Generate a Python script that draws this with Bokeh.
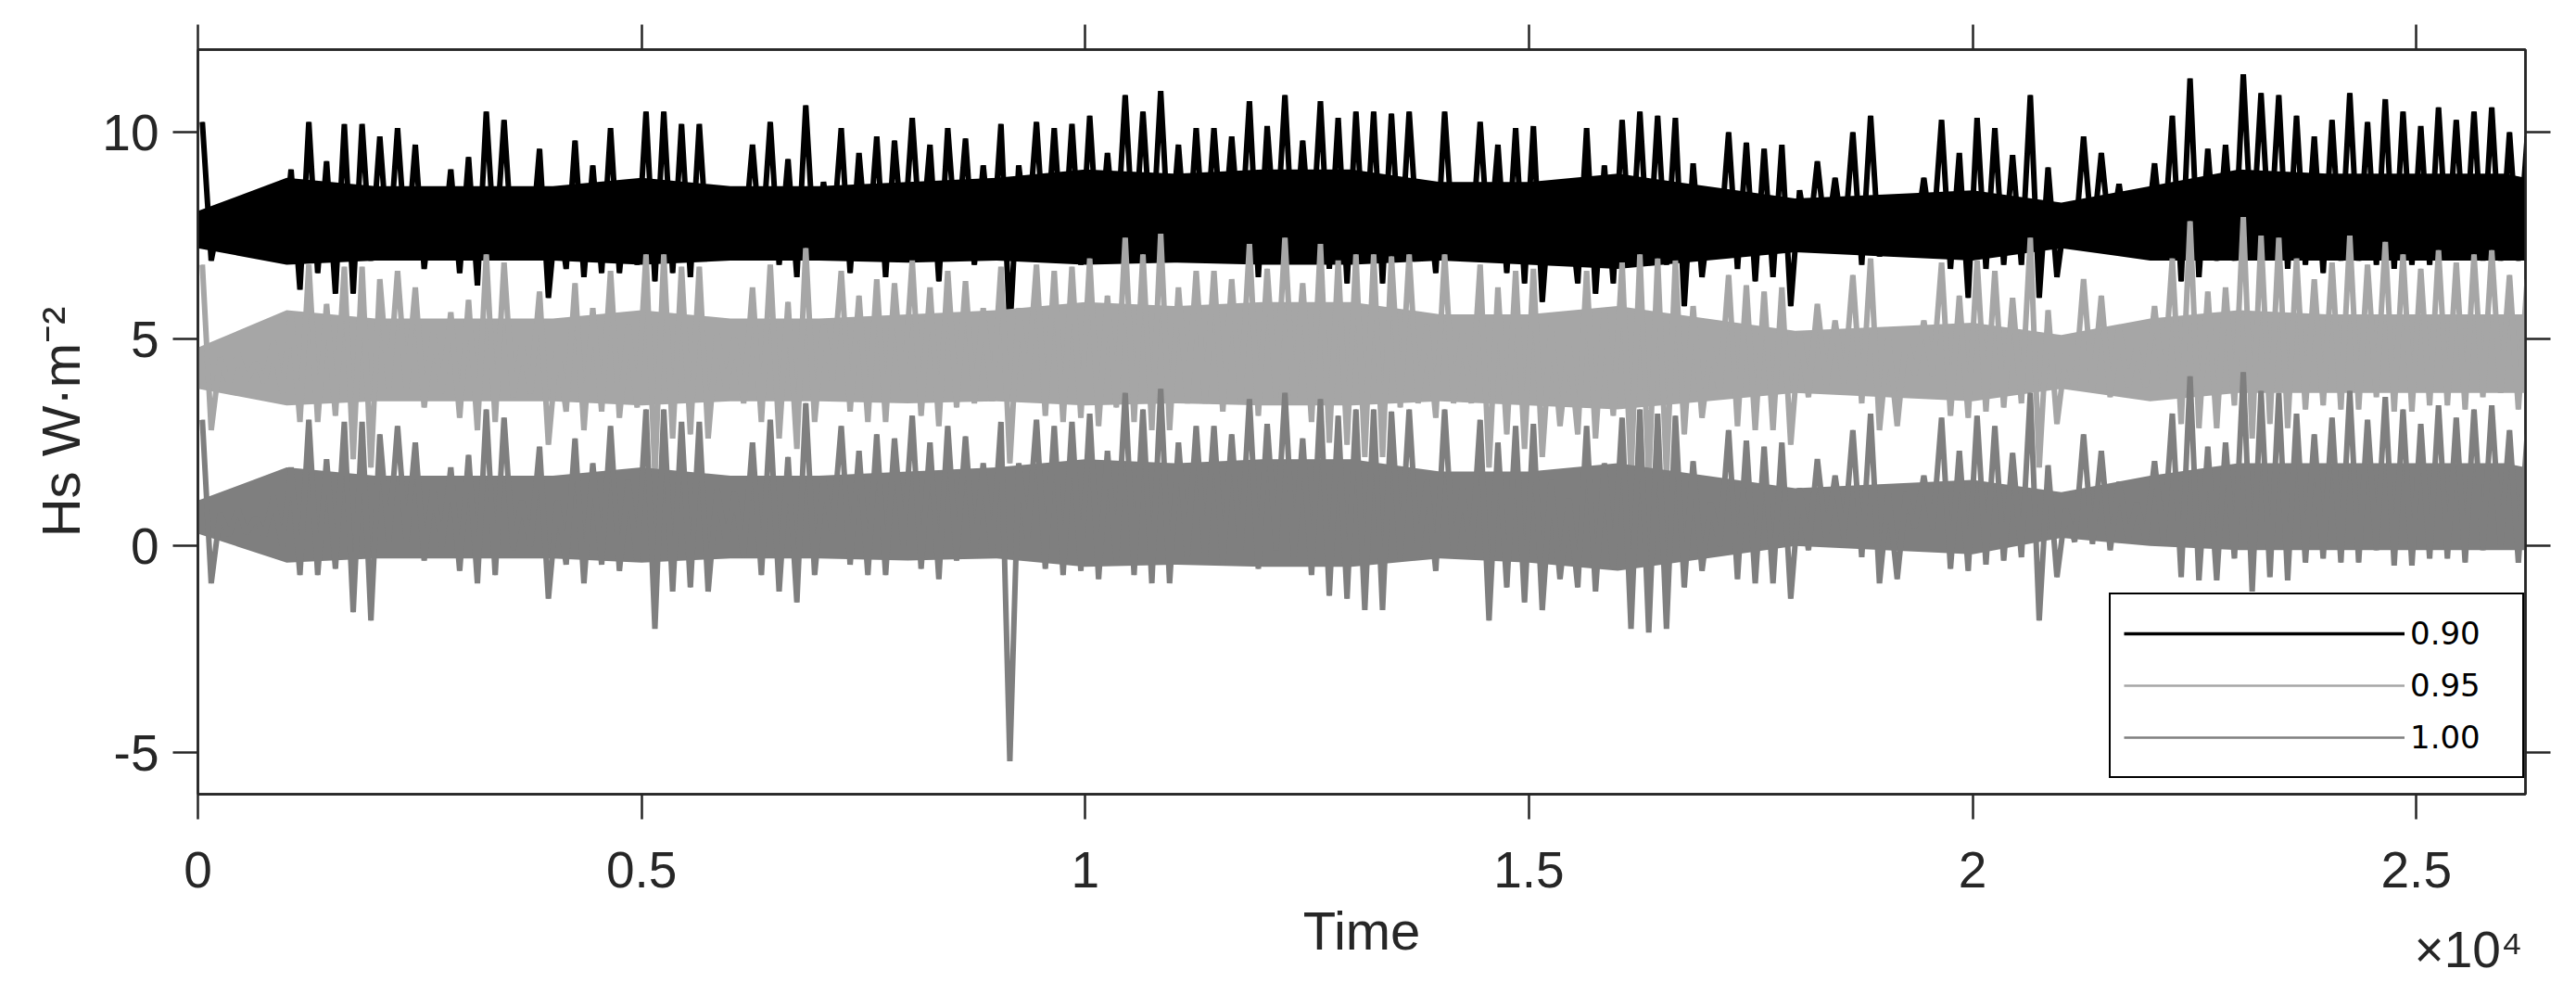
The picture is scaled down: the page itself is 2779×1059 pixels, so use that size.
from bokeh.plotting import figure
from bokeh.models import LinearAxis, FixedTicker, Legend, LegendItem, Title
from bokeh.embed import file_html
from bokeh.resources import INLINE

# ---------------- data ----------------
series_names = ["0.90", "0.95", "1.00"]
x_tick_values = [0, 5000, 10000, 15000, 20000, 25000]
x_tick_labels = ["0", "0.5", "1", "1.5", "2", "2.5"]
y_tick_values = [-5, 0, 5, 10]
y_tick_labels = ["-5", "0", "5", "10"]

# time bins of 200 units: each bin holds the highest and lowest excursion
bin_start = list(range(0, 26400, 200))

black_hi = [10.25, 8.0, 8.1, 7.9, 8.4, 9.1, 10.25, 9.3, 10.2, 10.2,
            9.9, 10.1, 9.7, 8.6, 9.1, 9.4, 10.5, 10.3, 8.3, 9.6,
            8.3, 9.8, 9.2, 10.1, 8.8, 10.5, 10.5, 10.2, 10.2, 8.6,
            8.5, 9.7, 10.25, 9.35, 10.65, 8.8, 10.1, 9.5, 9.9, 9.8,
            10.35, 9.7, 10.1, 9.85, 9.2, 10.2, 9.2, 10.25, 10.1, 10.2,
            10.4, 9.5, 10.9, 10.5, 11.0, 9.7, 10.1, 10.1, 9.9, 10.75,
            10.15, 10.9, 9.8, 10.75, 10.35, 10.5, 10.5, 10.45, 10.5, 8.8,
            10.5, 8.6, 10.25, 9.7, 10.1, 10.15, 8.8, 8.35, 10.1, 9.2,
            10.3, 10.5, 10.4, 10.35, 9.25, 8.25, 10.0, 9.75, 9.6, 9.7,
            8.6, 9.3, 8.9, 10.0, 10.4, 8.45, 8.5, 8.9, 10.3, 9.5,
            10.35, 10.1, 9.45, 10.9, 9.15, 8.1, 9.9, 9.5, 8.75, 8.25,
            9.25, 10.4, 11.3, 9.6, 9.7, 11.4, 10.95, 10.9, 10.4, 9.9,
            10.3, 10.95, 10.25, 10.8, 10.5, 10.15, 10.6, 10.3, 10.5, 10.6,
            10.0, 9.9]
black_lo = [6.9, 7.2, 7.2, 7.2, 6.9, 6.2, 6.6, 6.1, 6.1, 6.9,
            7.0, 7.0, 6.7, 7.0, 6.6, 6.3, 7.0, 7.0, 7.0, 6.0,
            6.7, 6.5, 6.6, 6.6, 6.8, 6.4, 6.6, 6.5, 6.9, 7.25,
            7.25, 7.1, 6.8, 6.5, 7.0, 7.3, 6.6, 7.0, 6.5, 7.2,
            7.2, 6.4, 7.2, 6.8, 7.0, 5.2, 7.4, 6.9, 6.9, 6.8,
            7.0, 7.2, 7.1, 7.1, 7.0, 6.9, 7.0, 7.2, 7.2, 6.5,
            7.2, 6.9, 7.1, 6.7, 6.35, 6.9, 6.35, 6.9, 7.25, 6.6,
            7.2, 7.1, 7.1, 6.6, 6.35, 5.9, 6.9, 6.35, 6.1, 6.35,
            6.8, 6.8, 6.8, 5.8, 6.5, 7.2, 6.7, 6.4, 6.5, 5.8,
            7.3, 7.3, 7.3, 6.8, 7.0, 7.35, 7.35, 7.35, 6.7, 6.0,
            6.7, 6.8, 6.8, 6.0, 6.5, 7.25, 7.3, 7.4, 7.3, 7.25,
            7.15, 6.4, 6.5, 6.9, 6.9, 7.25, 7.25, 6.7, 6.8, 6.6,
            6.9, 6.9, 6.8, 6.7, 6.8, 6.8, 7.05, 7.0, 6.9, 6.9,
            6.9, 6.9]

light_hi = [6.8, 4.55, 4.65, 4.45, 4.95, 5.65, 6.8, 5.85, 6.75, 6.75,
            6.45, 6.65, 6.25, 5.15, 5.65, 5.95, 7.05, 6.85, 4.85, 6.15,
            4.85, 6.35, 5.75, 6.65, 5.35, 7.05, 7.05, 6.75, 6.75, 5.15,
            5.05, 6.25, 6.8, 5.9, 7.2, 5.35, 6.65, 6.05, 6.45, 6.35,
            6.9, 6.25, 6.65, 6.4, 5.75, 6.75, 5.75, 6.8, 6.65, 6.75,
            6.95, 6.05, 7.45, 7.05, 7.55, 6.25, 6.65, 6.65, 6.45, 7.3,
            6.7, 7.45, 6.35, 7.3, 6.9, 7.05, 7.05, 7.0, 7.05, 5.35,
            7.05, 5.15, 6.8, 6.25, 6.65, 6.7, 5.35, 4.9, 6.65, 5.75,
            6.85, 7.05, 6.95, 6.9, 5.8, 4.8, 6.55, 6.3, 6.15, 6.25,
            5.15, 5.85, 5.45, 6.55, 6.95, 5.0, 5.05, 5.45, 6.85, 6.05,
            6.9, 6.65, 6.0, 7.45, 5.7, 4.65, 6.45, 6.05, 5.3, 4.8,
            5.8, 6.95, 7.85, 6.15, 6.25, 7.95, 7.5, 7.45, 6.95, 6.45,
            6.85, 7.5, 6.8, 7.35, 7.05, 6.7, 7.15, 6.85, 7.05, 7.15,
            6.55, 6.45]
light_lo = [2.8, 3.95, 4.0, 3.95, 3.7, 3.0, 3.0, 3.15, 2.1, 1.9,
            3.8, 3.8, 3.35, 3.7, 3.1, 2.8, 3.0, 3.6, 3.7, 2.45,
            3.25, 2.8, 3.25, 3.1, 3.35, 1.7, 2.6, 2.7, 2.6, 3.8,
            3.45, 3.0, 2.6, 2.35, 3.0, 4.0, 3.25, 3.0, 3.0, 3.7,
            3.15, 2.9, 3.35, 3.45, 3.5, 2.0, 3.9, 3.15, 3.0, 3.1,
            2.9, 3.35, 3.0, 2.8, 2.8, 3.45, 3.45, 3.25, 3.5, 3.15,
            3.6, 3.45, 3.0, 2.5, 2.45, 2.15, 2.15, 3.35, 3.45, 3.1,
            3.45, 3.45, 1.9, 2.7, 2.35, 2.15, 2.9, 2.7, 2.6, 3.15,
            1.7, 1.6, 1.7, 2.7, 3.1, 3.7, 2.9, 2.8, 2.8, 2.45,
            3.6, 3.9, 3.9, 3.45, 2.8, 2.9, 4.15, 4.1, 3.15, 3.1,
            3.25, 3.35, 3.45, 1.9, 2.95, 3.8, 3.75, 3.6, 3.85, 3.85,
            3.8, 2.95, 2.85, 2.85, 3.4, 2.6, 2.95, 2.85, 3.3, 3.4,
            3.3, 3.3, 3.6, 3.25, 3.25, 3.4, 3.4, 3.3, 3.6, 3.7,
            3.3, 3.4]

medium_hi = [3.05, 0.8, 0.9, 0.7, 1.2, 1.9, 3.05, 2.1, 3.0, 3.0,
             2.7, 2.9, 2.5, 1.4, 1.9, 2.2, 3.3, 3.1, 1.1, 2.4,
             1.1, 2.6, 2.0, 2.9, 1.6, 3.3, 3.3, 3.0, 3.0, 1.4,
             1.3, 2.5, 3.05, 2.15, 3.45, 1.6, 2.9, 2.3, 2.7, 2.6,
             3.15, 2.5, 2.9, 2.65, 2.0, 3.0, 2.0, 3.05, 2.9, 3.0,
             3.2, 2.3, 3.7, 3.3, 3.8, 2.5, 2.9, 2.9, 2.7, 3.55,
             2.95, 3.7, 2.6, 3.55, 3.15, 3.3, 3.3, 3.25, 3.3, 1.6,
             3.3, 1.4, 3.05, 2.5, 2.9, 2.95, 1.6, 1.15, 2.9, 2.0,
             3.1, 3.3, 3.2, 3.15, 2.05, 1.05, 2.8, 2.55, 2.4, 2.5,
             1.4, 2.1, 1.7, 2.8, 3.2, 1.25, 1.3, 1.7, 3.1, 2.3,
             3.15, 2.9, 2.25, 3.7, 1.95, 0.9, 2.7, 2.3, 1.55, 1.05,
             2.05, 3.2, 4.1, 2.4, 2.5, 4.2, 3.75, 3.7, 3.2, 2.7,
             3.1, 3.75, 3.05, 3.6, 3.3, 2.95, 3.4, 3.1, 3.3, 3.4,
             2.8, 2.7]
medium_lo = [-0.9, 0.25, 0.3, 0.25, 0.0, -0.7, -0.7, -0.55, -1.6, -1.8,
             0.1, 0.1, -0.35, 0.0, -0.6, -0.9, -0.7, -0.1, 0.0, -1.27,
             -0.45, -0.9, -0.45, -0.6, -0.35, -2.0, -1.1, -1.0, -1.1, 0.1,
             -0.27, -0.7, -1.1, -1.36, -0.7, 0.3, -0.45, -0.7, -0.7, 0.0,
             -0.55, -0.8, -0.35, -0.27, -0.2, -5.2, 0.2, -0.55, -0.7, -0.6,
             -0.8, -0.35, -0.7, -0.9, -0.9, -0.27, -0.27, -0.45, -0.2, -0.55,
             -0.1, -0.27, -0.7, -1.2, -1.27, -1.55, -1.55, -0.35, -0.27, -0.6,
             -0.27, -0.27, -1.8, -1.0, -1.36, -1.55, -0.8, -1.0, -1.1, -0.55,
             -2.0, -2.09, -2.0, -1.0, -0.6, 0.0, -0.8, -0.9, -0.9, -1.27,
             -0.1, 0.2, 0.2, -0.27, -0.9, -0.8, 0.45, 0.4, -0.55, -0.6,
             -0.45, -0.35, -0.27, -1.8, -0.75, 0.1, 0.05, -0.1, 0.15, 0.15,
             0.1, -0.75, -0.83, -0.83, -0.3, -1.1, -0.75, -0.83, -0.4, -0.3,
             -0.4, -0.4, -0.1, -0.47, -0.47, -0.3, -0.3, -0.4, -0.1, 0.0,
             -0.4, -0.3]

# dense central band of each series, every 1000 time units
core_time = list(range(0, 27000, 1000)) + [26230]
black_core_lo = [7.2, 6.8, 6.9, 6.9, 6.9, 6.8, 6.9, 6.9, 6.85, 6.9, 6.8, 6.85, 6.8, 6.8,
                 6.9, 6.8, 6.7, 6.9, 7.1, 7.0, 6.9, 7.2, 6.9, 6.9, 6.9, 6.9, 6.9, 6.9]
black_core_hi = [8.1, 8.9, 8.7, 8.7, 8.7, 8.9, 8.7, 8.7, 8.8, 8.9, 9.1, 9.0, 9.1, 9.1,
                 8.8, 8.8, 9.0, 8.7, 8.4, 8.5, 8.6, 8.3, 8.7, 9.1, 9.0, 9.0, 9.0, 8.9]
light_core_lo = [3.8, 3.4, 3.5, 3.5, 3.5, 3.4, 3.5, 3.5, 3.45, 3.5, 3.4, 3.45, 3.4, 3.4,
                 3.5, 3.4, 3.3, 3.5, 3.7, 3.6, 3.5, 3.8, 3.5, 3.7, 3.7, 3.7, 3.7, 3.7]
light_core_hi = [4.8, 5.7, 5.5, 5.5, 5.5, 5.7, 5.5, 5.5, 5.6, 5.7, 5.9, 5.8, 5.9, 5.9,
                 5.6, 5.6, 5.8, 5.5, 5.2, 5.3, 5.4, 5.1, 5.5, 5.7, 5.6, 5.6, 5.6, 5.6]
medium_core_lo = [0.3, -0.4, -0.3, -0.3, -0.3, -0.4, -0.3, -0.3, -0.35, -0.3, -0.5, -0.45, -0.5, -0.5,
                  -0.3, -0.4, -0.6, -0.3, 0.0, -0.1, -0.2, 0.2, 0.0, -0.1, -0.1, -0.1, -0.1, -0.1]
medium_core_hi = [1.1, 1.9, 1.7, 1.7, 1.7, 1.9, 1.7, 1.7, 1.8, 1.9, 2.1, 2.0, 2.1, 2.1,
                  1.8, 1.8, 2.0, 1.7, 1.4, 1.5, 1.6, 1.3, 1.7, 2.0, 2.0, 2.0, 2.0, 1.9]

# ---------------- styling ----------------
FONT = "Liberation Sans"
AX = "#262626"
COLORS = ["#000000", "#a6a6a6", "#7f7f7f"]
LEGEND_WIDTHS = [3.5, 2.5, 2.5]
X_END = 26230

p = figure(width=2769, height=1056, x_range=(0, X_END), y_range=(-6, 12),
           output_backend="svg", toolbar_location=None,
           min_border_left=213, min_border_right=45, min_border_top=53, min_border_bottom=200)
p.background_fill_color = "white"
p.border_fill_color = "white"
p.grid.visible = False
p.outline_line_color = AX
p.outline_line_width = 2.5


def style_axis(ax, ticks, show_labels):
    ax.ticker = FixedTicker(ticks=ticks)
    ax.major_tick_out = 27
    ax.major_tick_in = 0
    ax.minor_tick_out = 0
    ax.minor_tick_in = 0
    ax.axis_line_color = AX
    ax.axis_line_width = 2.5
    ax.major_tick_line_color = AX
    ax.major_tick_line_width = 2.5
    if show_labels:
        ax.major_label_text_font = FONT
        ax.major_label_text_font_size = "55px"
        ax.major_label_text_color = AX
    else:
        ax.major_label_text_font_size = "0px"
        ax.major_label_text_color = None
        ax.major_label_standoff = 0


xax = p.xaxis[0]
style_axis(xax, x_tick_values, True)
xax.major_label_overrides = {v: s for v, s in zip(x_tick_values, x_tick_labels)}
xax.major_label_standoff = 35
xax.axis_label = "Time"
xax.axis_label_text_font = FONT
xax.axis_label_text_font_size = "58px"
xax.axis_label_text_font_style = "normal"
xax.axis_label_text_color = AX
xax.axis_label_standoff = 11

yax = p.yaxis[0]
style_axis(yax, y_tick_values, True)
yax.major_label_overrides = {v: s for v, s in zip(y_tick_values, y_tick_labels)}
yax.major_label_standoff = 15
yax.axis_label = "Hs W·m⁻²"
yax.axis_label_text_font = FONT
yax.axis_label_text_font_size = "58px"
yax.axis_label_text_font_style = "normal"
yax.axis_label_text_color = AX
yax.axis_label_standoff = 9

top_ax = LinearAxis()
style_axis(top_ax, x_tick_values, False)
p.add_layout(top_ax, "above")
right_ax = LinearAxis()
style_axis(right_ax, y_tick_values, False)
p.add_layout(right_ax, "right")

# x-axis multiplier, bottom right
p.add_layout(Title(text="×10⁴", align="right", vertical_align="top", offset=3, standoff=-92,
                   text_font=FONT, text_font_size="55px", text_font_style="normal",
                   text_color=AX), "below")

# ---------------- series ----------------
all_series = [
    (black_hi, black_lo, black_core_lo, black_core_hi),
    (light_hi, light_lo, light_core_lo, light_core_hi),
    (medium_hi, medium_lo, medium_core_lo, medium_core_hi),
]
legend_items = []
for (hi, lo, clo, chi), color, lw, name in zip(all_series, COLORS, LEGEND_WIDTHS, series_names):
    xs, ys = [], []
    for b, h, l in zip(bin_start, hi, lo):
        xs += [b + 50, b + 150]
        ys += [h, l]
    # thin copy of the trace (hidden under the thick one) gives the legend key its width
    key = p.line(xs, ys, line_color=color, line_width=lw)
    p.varea(x=core_time, y1=clo, y2=chi, fill_color=color)
    p.line(xs, ys, line_color=color, line_width=6)
    legend_items.append(LegendItem(label=name, renderers=[key]))

legend = Legend(items=legend_items, location=(2062, 17))
legend.glyph_width = 303
legend.glyph_height = 56
legend.label_height = 56
legend.spacing = 0
legend.padding = 14
legend.margin = 0
legend.label_standoff = 6
legend.label_width = 107
legend.label_text_font = "DejaVu Sans"
legend.label_text_font_size = "34px"
legend.label_text_color = "#000000"
legend.border_line_color = "#000000"
legend.border_line_alpha = 1.0
legend.border_line_width = 2.5
legend.background_fill_color = "white"
legend.background_fill_alpha = 1.0
p.add_layout(legend)

open("out.html", "w").write(file_html(p, INLINE))
